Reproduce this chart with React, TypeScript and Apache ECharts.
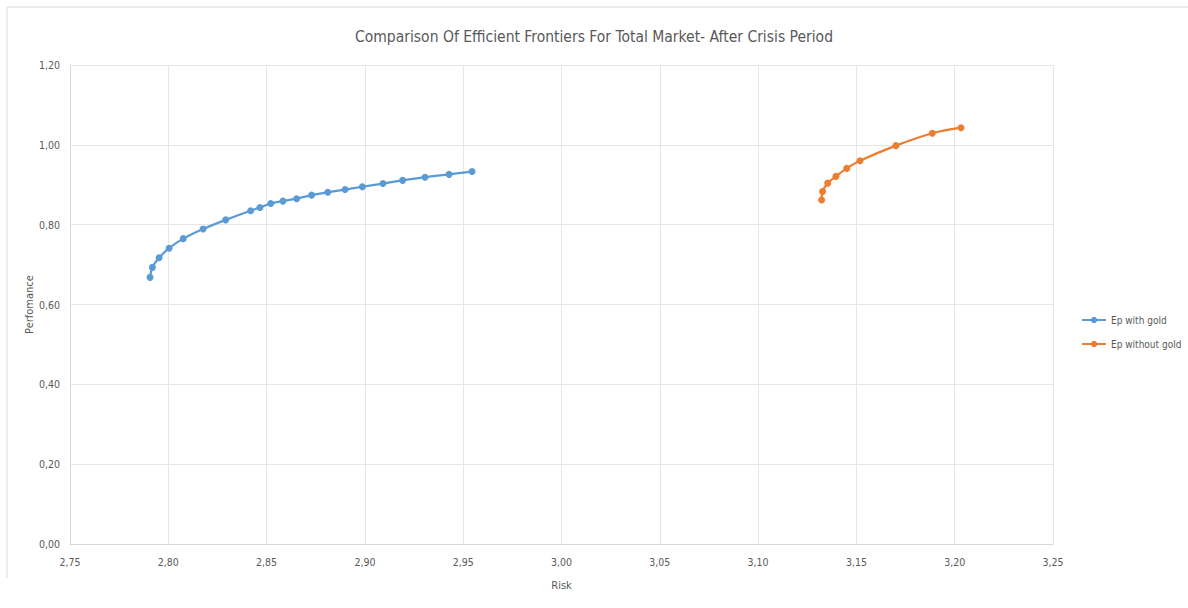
import React, { useEffect, useRef } from "react";
import * as echarts from "echarts";

const withGoldRisk = [2.7907, 2.7919, 2.7953, 2.8004, 2.8076, 2.8177, 2.8292, 2.8419, 2.8466, 2.8521, 2.8583, 2.8653, 2.8729, 2.8811, 2.8899, 2.8987, 2.9092, 2.9192, 2.9306, 2.9428, 2.9545];
const withGoldPerf = [0.668, 0.693, 0.717, 0.741, 0.765, 0.789, 0.812, 0.835, 0.843, 0.853, 0.859, 0.865, 0.874, 0.881, 0.888, 0.895, 0.903, 0.911, 0.919, 0.926, 0.933];
const withoutGoldRisk = [3.1323, 3.1328, 3.1354, 3.1396, 3.1451, 3.1518, 3.1701, 3.1886, 3.2032];
const withoutGoldPerf = [0.862, 0.883, 0.904, 0.921, 0.941, 0.96, 0.998, 1.029, 1.043];

const seriesNames = ["Ep with gold", "Ep without gold"];
const titleText = "Comparison Of Efficient Frontiers For Total Market- After Crisis Period";
const xName = "Risk";
const yName = "Perfomance";

const FONT = "'Liberation Sans Narrow', 'DejaVu Sans Condensed', 'Open Sans', sans-serif";

const fmt = (v: number) => v.toFixed(2).replace(".", ",");

export default function App() {
  const ref = useRef<HTMLDivElement>(null);
  useEffect(() => {
    document.body.style.margin = "0";
    const chart = echarts.init(ref.current!, undefined, { renderer: "svg" });
    const zip = (xs: number[], ys: number[]) => xs.map((x, i) => [x, ys[i]]);
    chart.setOption({
      animation: false,
      backgroundColor: "#ffffff",
      textStyle: { fontFamily: FONT },
      title: {
        text: titleText,
        left: "center",
        top: 24,
        textStyle: { fontFamily: FONT, fontSize: 15.5, fontWeight: "normal", color: "#595959" },
      },
      legend: {
        orient: "vertical",
        left: 1076,
        top: 310,
        itemWidth: 24,
        itemHeight: 8,
        itemGap: 14,
        textStyle: { fontFamily: FONT, fontSize: 10, color: "#595959" },
        data: seriesNames,
      },
      grid: { left: 70, right: 135, top: 65, bottom: 64 },
      xAxis: {
        type: "value",
        min: 2.75,
        max: 3.25,
        interval: 0.05,
        name: xName,
        nameLocation: "middle",
        nameGap: 36,
        nameMoveOverlap: false,
        nameTextStyle: { fontFamily: FONT, fontSize: 11, color: "#595959" },
        axisLine: { show: true, lineStyle: { color: "#d9d9d9" } },
        axisTick: { show: false },
        axisLabel: { formatter: fmt, color: "#595959", fontSize: 10.5, fontFamily: FONT, margin: 12 },
        splitLine: { show: true, lineStyle: { color: "#e6e6e6" } },
      },
      yAxis: {
        type: "value",
        min: 0,
        max: 1.2,
        interval: 0.2,
        name: yName,
        nameLocation: "middle",
        nameRotate: 90,
        nameGap: 35,
        nameMoveOverlap: false,
        nameTextStyle: { fontFamily: FONT, fontSize: 11, color: "#595959" },
        axisLine: { show: true, lineStyle: { color: "#d9d9d9" } },
        axisTick: { show: false },
        axisLabel: { formatter: fmt, color: "#595959", fontSize: 10.5, fontFamily: FONT, margin: 10 },
        splitLine: { show: true, lineStyle: { color: "#e6e6e6" } },
      },
      graphic: [
        { type: "line", shape: { x1: 7, y1: 7, x2: 1188, y2: 7 }, style: { stroke: "#d9d9d9", lineWidth: 1 } },
        { type: "line", shape: { x1: 7, y1: 7, x2: 7, y2: 578 }, style: { stroke: "#d9d9d9", lineWidth: 1 } },
      ],
      series: [
        {
          name: seriesNames[0],
          type: "line",
          data: zip(withGoldRisk, withGoldPerf),
          smooth: 0.3,
          symbol: "circle",
          symbolSize: 7,
          lineStyle: { color: "#5B9BD5", width: 2.25 },
          itemStyle: { color: "#5B9BD5" },
        },
        {
          name: seriesNames[1],
          type: "line",
          data: zip(withoutGoldRisk, withoutGoldPerf),
          smooth: 0.3,
          symbol: "circle",
          symbolSize: 7,
          lineStyle: { color: "#ED7D31", width: 2.25 },
          itemStyle: { color: "#ED7D31" },
        },
      ],
    });
    return () => chart.dispose();
  }, []);
  return <div ref={ref} style={{ width: 1188, height: 608 }} />;
}
